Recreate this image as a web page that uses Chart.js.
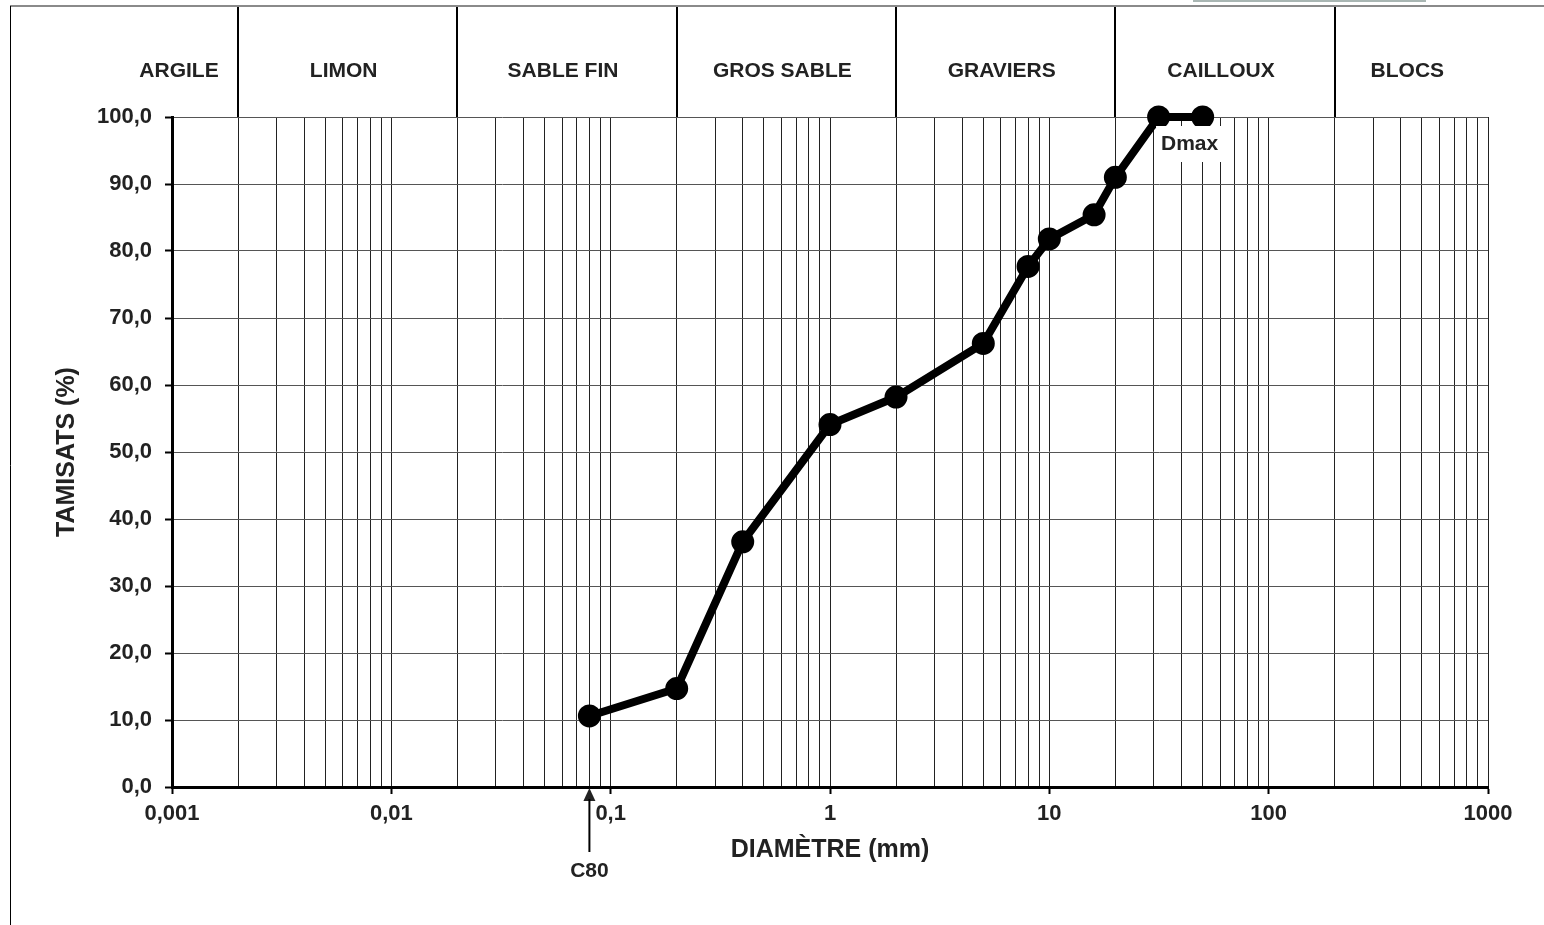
<!DOCTYPE html>
<html lang="fr">
<head>
<meta charset="utf-8">
<title>Courbe granulométrique</title>
<script src="https://cdn.jsdelivr.net/npm/chart.js@4.4.1/dist/chart.umd.min.js"></script>
<style>
  html, body { margin:0; padding:0; background:#fff; }
  #wrap { position:relative; width:1544px; height:925px; }
</style>
</head>
<body>
<div id="wrap"><canvas id="chart"></canvas></div>
<script>
// tamis (mm) et tamisats (%)
const sieves  = [0.08, 0.2, 0.4, 1, 2, 5, 8, 10, 16, 20, 31.5, 50];
const passing = [10.6, 14.7, 36.6, 54.1, 58.2, 66.2, 77.7, 81.8, 85.4, 91.0, 100, 100];

// classes granulométriques et leurs limites (mm)
const zoneNames  = ['ARGILE', 'LIMON', 'SABLE FIN', 'GROS SABLE', 'GRAVIERS', 'CAILLOUX', 'BLOCS'];
const zoneLimits = [0.002, 0.02, 0.2, 2, 20, 200];

// graduations
const decades      = [0.001, 0.01, 0.1, 1, 10, 100, 1000];
const decadeLabels = ['0,001', '0,01', '0,1', '1', '10', '100', '1000'];
const minorSteps   = [2, 3, 4, 5, 6, 7, 8, 9];
const yTicks       = [0, 10, 20, 30, 40, 50, 60, 70, 80, 90, 100];

const c80  = 0.08;
const dmax = 50;

const FONT = '"Liberation Sans", Arial, Helvetica, sans-serif';
const INK = '#222';

const gridValues = [];
decades.forEach((d, i) => {
  gridValues.push(d);
  if (i < decades.length - 1) minorSteps.forEach(m => gridValues.push(+(d * m).toPrecision(6)));
});

function seg(ctx, x1, y1, x2, y2){
  ctx.beginPath(); ctx.moveTo(x1, y1); ctx.lineTo(x2, y2); ctx.stroke();
}

const decor = {
  id: 'decor',
  afterDraw(chart){
    const { ctx, chartArea: a, scales: { x, y } } = chart;
    ctx.save();
    // cadre
    ctx.strokeStyle = '#8a8a8a'; ctx.lineWidth = 2;
    seg(ctx, 10, 6, chart.width, 6);
    ctx.strokeStyle = '#000'; ctx.lineWidth = 1;
    seg(ctx, 10.5, 6, 10.5, chart.height);
    ctx.strokeStyle = '#a9b6b3'; ctx.lineWidth = 2;
    seg(ctx, 1193, 1, 1426, 1);

    // bandeau des classes
    ctx.strokeStyle = '#000'; ctx.lineWidth = 2;
    zoneLimits.forEach(v => {
      const px = Math.round(x.getPixelForValue(v));
      seg(ctx, px, 7, px, a.top);
    });
    const edges = [a.left - 44, ...zoneLimits.map(v => x.getPixelForValue(v)), a.right];
    ctx.fillStyle = INK;
    ctx.font = 'bold 21px ' + FONT;
    ctx.textAlign = 'center'; ctx.textBaseline = 'middle';
    zoneNames.forEach((n, i) => ctx.fillText(n, (edges[i] + edges[i + 1]) / 2 - 4, a.top - 46));

    // C80
    const cx = x.getPixelForValue(c80);
    ctx.beginPath();
    ctx.moveTo(cx, a.bottom + 1);
    ctx.lineTo(cx - 6, a.bottom + 14);
    ctx.lineTo(cx + 6, a.bottom + 14);
    ctx.closePath(); ctx.fill();
    ctx.lineWidth = 2;
    seg(ctx, cx, a.bottom + 12, cx, a.bottom + 65);
    ctx.font = 'bold 21px ' + FONT;
    ctx.fillText('C80', cx, a.bottom + 84);

    // Dmax
    const i = sieves.indexOf(dmax);
    const dx = (x.getPixelForValue(sieves[i - 1]) + x.getPixelForValue(dmax)) / 2 + 9;
    const dy = y.getPixelForValue(passing[i]) + 27;
    const w = ctx.measureText('Dmax').width + 10;
    ctx.fillStyle = '#fff';
    ctx.fillRect(dx - w / 2, dy - 18, w, 36);
    ctx.fillStyle = INK;
    ctx.fillText('Dmax', dx, dy);
    ctx.restore();
  }
};

new Chart(document.getElementById('chart'), {
  type: 'line',
  data: {
    datasets: [{
      data: sieves.map((d, i) => ({ x: d, y: passing[i] })),
      borderColor: '#000',
      backgroundColor: '#000',
      borderWidth: 8,
      pointRadius: 7.5,
      pointBackgroundColor: '#000',
      pointBorderColor: '#000',
      tension: 0,
      fill: false,
      clip: false
    }]
  },
  options: {
    responsive: true,
    maintainAspectRatio: false,
    animation: false,
    events: [],
    layout: { padding: { top: 117, right: 56, left: 0, bottom: 0 } },
    plugins: { legend: { display: false }, tooltip: { enabled: false } },
    scales: {
      x: {
        type: 'logarithmic',
        min: 0.001, max: 1000,
        afterFit: s => { s.height = 138; },
        afterBuildTicks: s => { s.ticks = gridValues.map(v => ({ value: v, major: decades.includes(v) })); },
        ticks: {
          autoSkip: false, maxRotation: 0, padding: 7, color: INK,
          font: { family: FONT, size: 22, weight: 'bold' },
          callback: v => { const k = decades.indexOf(v); return k >= 0 ? decadeLabels[k] : ''; }
        },
        grid: {
          color: '#222', lineWidth: 1, tickLength: 7, tickWidth: 2,
          tickColor: c => (c.tick && c.tick.major) ? '#000' : 'rgba(0,0,0,0)'
        },
        border: { color: '#000', width: 3 },
        title: {
          display: true, text: 'DIAMÈTRE (mm)', color: INK,
          font: { family: FONT, size: 25, weight: 'bold' },
          padding: { top: 0, bottom: 60 }
        }
      },
      y: {
        type: 'linear',
        min: 0, max: 100,
        afterFit: s => { s.width = 172; },
        afterBuildTicks: s => { s.ticks = yTicks.map(v => ({ value: v })); },
        ticks: {
          padding: 13, color: INK,
          font: { family: FONT, size: 22, weight: 'bold' },
          callback: v => v.toFixed(1).replace('.', ',')
        },
        grid: { color: '#555', lineWidth: 1, tickLength: 7, tickWidth: 2, tickColor: '#000' },
        border: { color: '#000', width: 3 },
        title: {
          display: true, text: 'TAMISATS (%)', color: INK,
          font: { family: FONT, size: 25, weight: 'bold' },
          padding: { top: 52, bottom: 0 }
        }
      }
    }
  },
  plugins: [decor]
});
</script>
</body>
</html>
